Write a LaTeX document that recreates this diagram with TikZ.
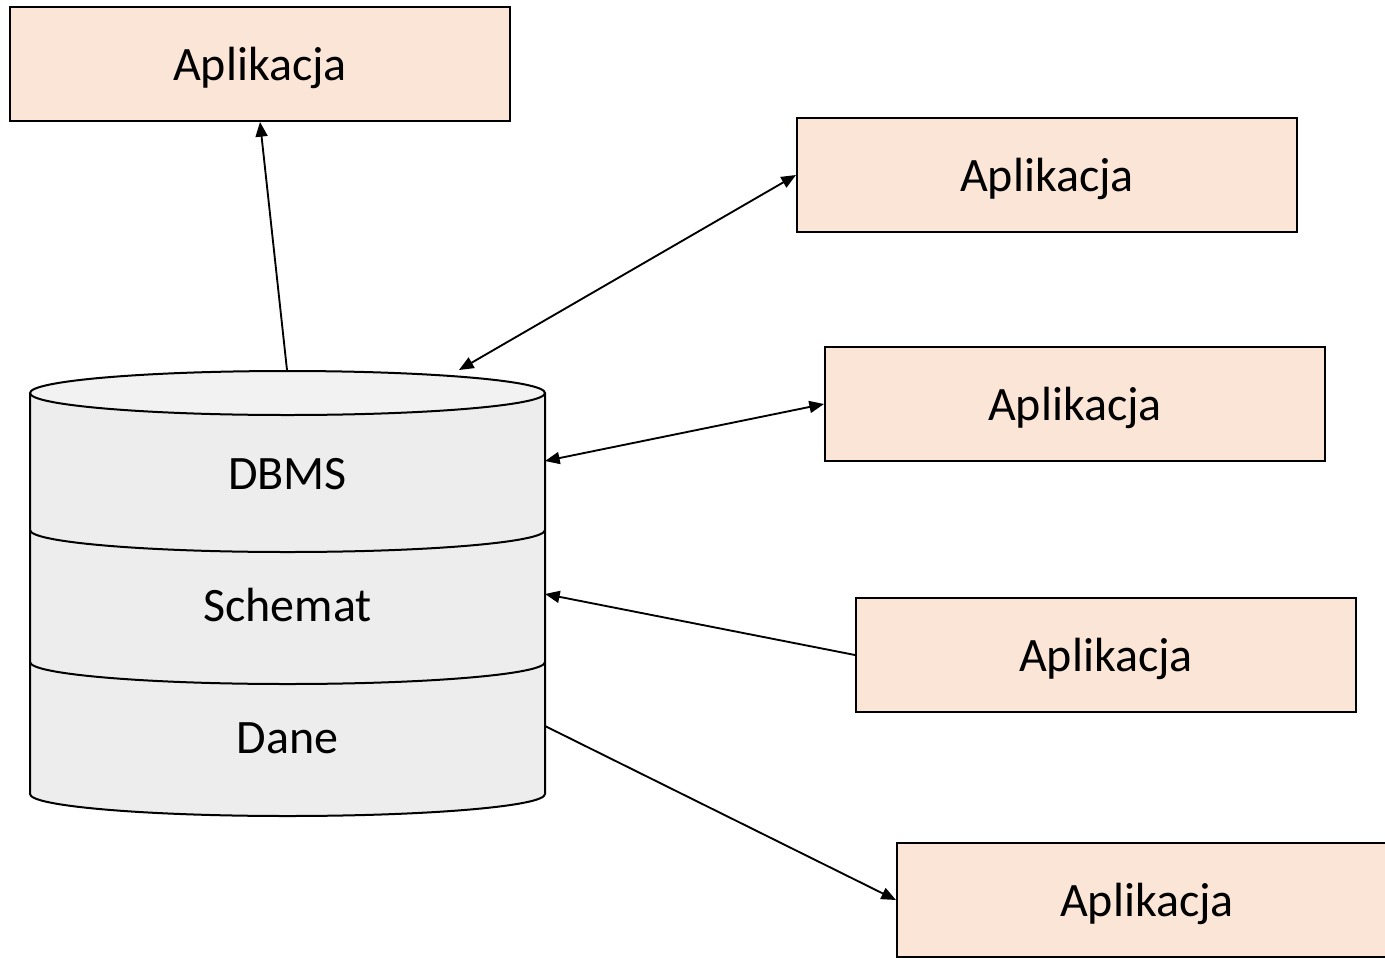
\documentclass[tikz,border=0pt]{standalone}
\usepackage{fontspec}
\setmainfont{Carlito}
\usetikzlibrary{arrows.meta}
\definecolor{appfill}{HTML}{FBE5D6}
\definecolor{dbbody}{HTML}{EDEDED}
\definecolor{dbtop}{HTML}{F2F2F2}
\tikzset{
  appbox/.style={draw=black, line width=1.5pt, fill=appfill, minimum width=375pt,
    minimum height=85.5pt, inner sep=0pt, text depth=0pt, font=\fontsize{36}{43}\selectfont},
  layer/.style={font=\fontsize{36}{43}\selectfont, inner sep=0pt},
  conn/.style={line width=1.4pt, -{Triangle[length=11pt,width=9pt]}},
  bconn/.style={line width=1.4pt, {Triangle[length=11pt,width=9pt]}-{Triangle[length=11pt,width=9pt]}},
  rim/.style={line width=1.5pt},
}
\begin{document}
\begin{tikzpicture}[x=0.75pt,y=-0.75pt]
\useasboundingbox (0,0) rectangle (1385,957);
\clip (0,0) rectangle (1385,957);

% database cylinder
\fill[dbbody] (30,393) -- (30,794)
  arc[start angle=180, end angle=360, x radius=193.125pt, y radius=16.5pt]
  -- (545,393) -- cycle;
\draw[rim] (30,393) -- (30,794)
  arc[start angle=180, end angle=360, x radius=193.125pt, y radius=16.5pt]
  -- (545,393);
\draw[rim] (30,530) arc[start angle=180, end angle=360, x radius=193.125pt, y radius=16.5pt];
\draw[rim] (30,662) arc[start angle=180, end angle=360, x radius=193.125pt, y radius=16.5pt];
\draw[rim, fill=dbtop] (287.5,393) ellipse [x radius=193.125pt, y radius=16.5pt];

\node[layer] (dbms) at (287.5,474) {DBMS};
\node[layer] (schemat) at (287.5,605) {Schemat};
\node[layer] (dane) at (287.5,738) {Dane};

% attachment points on the cylinder
\coordinate (cTopA) at (287,370);
\coordinate (cTopB) at (459,370);
\coordinate (cDbms) at (545,461);
\coordinate (cSchemat) at (545,594);
\coordinate (cDane) at (545,726);

% applications
\node[appbox] (app1) at (260,64) {Aplikacja};
\node[appbox] (app2) at (1047,175) {Aplikacja};
\node[appbox] (app3) at (1075,404) {Aplikacja};
\node[appbox] (app4) at (1106,655) {Aplikacja};
\node[appbox] (app5) at (1147,900) {Aplikacja};

% connectors
\draw[conn] (cTopA) -- (app1.south);
\draw[bconn] (cTopB) -- (app2.west);
\draw[bconn] (cDbms) -- (app3.west);
\draw[conn] (app4.west) -- (cSchemat);
\draw[conn] (cDane) -- (app5.west);
\end{tikzpicture}
\end{document}
